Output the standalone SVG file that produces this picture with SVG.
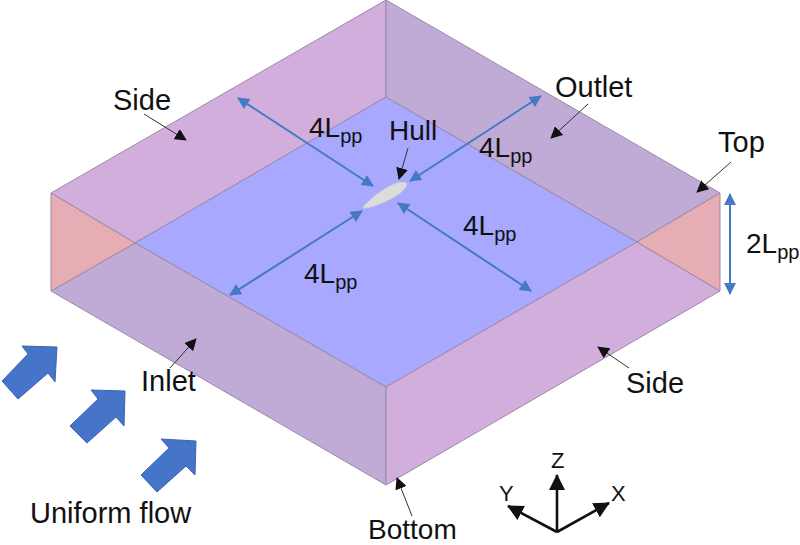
<svg xmlns="http://www.w3.org/2000/svg" width="800" height="545" viewBox="0 0 800 545">
<style>
text{font-family:"Liberation Sans",Arial,sans-serif;font-size:29px;fill:#111}
.l{font-size:28px}
.s{font-size:20px}
.c{font-size:22px}
.e{stroke:#9a8aa6;stroke-width:1;stroke-linejoin:round}
.b{stroke:#4479c4;stroke-width:2;fill:none;marker-start:url(#bs);marker-end:url(#be)}
.k{stroke:#333;stroke-width:1;fill:none;marker-end:url(#k)}
.a{stroke:#111;stroke-width:2.6;fill:none;marker-end:url(#a)}
.f{fill:#4574c8;stroke:#3a66b0;stroke-width:1}
</style>
<defs>
<marker id="be" markerUnits="userSpaceOnUse" markerWidth="14" markerHeight="12" refX="11" refY="6" orient="auto"><path d="M0 0L12 6L0 12Z" fill="#4479c4"/></marker>
<marker id="bs" markerUnits="userSpaceOnUse" markerWidth="14" markerHeight="12" refX="1" refY="6" orient="auto"><path d="M12 0L0 6L12 12Z" fill="#4479c4"/></marker>
<marker id="k" markerUnits="userSpaceOnUse" markerWidth="13" markerHeight="12" refX="11" refY="6" orient="auto"><path d="M0 0L12 6L0 12Z" fill="#111"/></marker>
<marker id="a" markerUnits="userSpaceOnUse" markerWidth="17" markerHeight="16" refX="15" refY="8" orient="auto"><path d="M0 0L16 8L0 16Z" fill="#111"/></marker>
</defs>
<g id="domain">
<polygon class="e" fill="#d1aedb" points="51,193 386,0 386,97 135,243"/>
<polygon class="e" fill="#c0abd6" points="386,0 720,193 637,242 386,97"/>
<polygon class="e" fill="#a8a8ff" points="386,97 637,242 386,387 135,243"/>
<polygon class="e" fill="#c0abd6" points="135,243 386,387 386,485 51,291"/>
<polygon class="e" fill="#d1aedb" points="386,387 637,242 720,291 386,485"/>
<polygon class="e" fill="#e6aeb4" points="51,193 135,243 51,291"/>
<polygon class="e" fill="#e6aeb4" points="720,193 637,242 720,291"/>
</g>
<g id="hull"><path d="M363 207C371 198 385 187 397 183C402 182 407 182 407 184C406 188 402 192 396 196C386 202 373 207 366 208C364 208 363 208 363 207Z" fill="#dcdcdc" stroke="#cfcfcf"/></g>
<g id="connectors">
<path class="b" d="M238 98L373 186"/>
<path class="b" d="M541 96L410 181"/>
<path class="b" d="M362 211L230 295"/>
<path class="b" d="M398 203L531 291"/>
<path class="b" d="M730 194V294"/>
<path class="k" d="M144 114L186 140"/>
<path class="k" d="M588 104L551 138"/>
<path class="k" d="M408 148L399 179"/>
<path class="k" d="M731 162L697 192"/>
<path class="k" d="M170 368L196 339"/>
<path class="k" d="M629 368L598 347"/>
<path class="k" d="M412 516L397 478"/>
<path class="a" d="M557 532V475"/>
<path class="a" d="M557 532L508 506"/>
<path class="a" d="M557 532L609 503"/>
</g>
<g id="flow">
<polygon class="f" points="2,381 28,354 22,346 57,347 55,382 48,373 18,399"/>
<polygon class="f" points="70,426 98,399 91,390 125,391 124,426 116,417 87,443"/>
<polygon class="f" points="141,475 169,448 161,439 196,441 195,475 186,466 157,492"/>
</g>
<g id="labels">
<text x="113" y="110">Side</text>
<text x="555" y="97">Outlet</text>
<text class="l" x="389" y="140">Hull</text>
<text x="718" y="152">Top</text>
<text x="141" y="391">Inlet</text>
<text x="626" y="393">Side</text>
<text class="l" x="368" y="539">Bottom</text>
<text x="30" y="523">Uniform flow</text>
<text class="l" x="309" y="137">4L<tspan class="s" dy="6">pp</tspan></text>
<text class="l" x="479" y="157">4L<tspan class="s" dy="6">pp</tspan></text>
<text class="l" x="463" y="235">4L<tspan class="s" dy="6">pp</tspan></text>
<text class="l" x="304" y="283">4L<tspan class="s" dy="6">pp</tspan></text>
<text class="l" x="746" y="253">2L<tspan class="s" dy="6">pp</tspan></text>
<text class="c" x="551" y="468">Z</text>
<text class="c" x="499" y="501">Y</text>
<text class="c" x="611" y="501">X</text>
</g>
</svg>
